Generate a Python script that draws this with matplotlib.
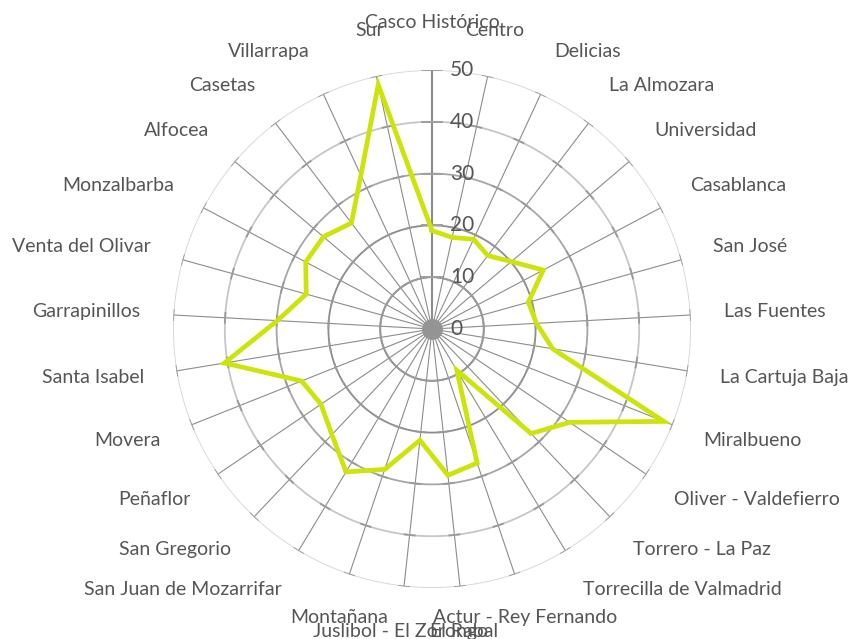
import numpy as np
import matplotlib
matplotlib.use("Agg")
import matplotlib.pyplot as plt

plt.rcParams["font.family"] = ["Lato", "DejaVu Sans"]

districts = [
    "Casco Histórico", "Centro", "Delicias", "La Almozara", "Universidad",
    "Casablanca", "San José", "Las Fuentes", "La Cartuja Baja", "Miralbueno",
    "Oliver - Valdefierro", "Torrero - La Paz", "Torrecilla de Valmadrid",
    "Actur - Rey Fernando", "El Rabal", "Juslibol - El Zorongo", "Montañana",
    "San Juan de Mozarrifar", "San Gregorio", "Peñaflor", "Movera",
    "Santa Isabel", "Garrapinillos", "Venta del Olivar", "Monzalbarba",
    "Alfocea", "Casetas", "Villarrapa", "Sur",
]
values = [19.0, 18.1, 19.1, 17.8, 20.1, 24.3, 19.3, 20.2, 23.6, 48.2,
          32.1, 27.8, 9.3, 27.3, 28.4, 21.6, 28.6, 32.2, 28.1, 25.9,
          27.1, 40.6, 29.9, 25.2, 27.6, 27.5, 25.7, 32.7, 48.3]
ticks = [0, 10, 20, 30, 40, 50]

ring_colors = {10: "#8c8c8c", 20: "#8c8c8c", 30: "#a6a6a6", 40: "#c6c6c6", 50: "#d6d6d6"}
line_color = "#cde30c"
text_color = "#555555"

n = len(districts)
angles = np.arange(n) * 2 * np.pi / n

fig = plt.figure(figsize=(8.51, 6.39), dpi=100)
ax = fig.add_axes([432 / 851 - 259 / 851, (639 - 329 - 259) / 639, 518 / 851, 518 / 639],
                  projection="polar")
ax.set_theta_zero_location("N")
ax.set_theta_direction(-1)
ax.set_ylim(0, 50)
ax.set_axis_off()

full = np.linspace(0, 2 * np.pi, 721)
px_per_unit = 259 / 50

# spokes
for a in angles[1:]:
    ax.plot([a, a], [0, 50], color="#8c8c8c", lw=0.8, zorder=1)
ax.plot([0, 0], [0, 50], color="#8c8c8c", lw=1.5, zorder=2)

# rings with small darker marks where spokes cross
for r in ticks[1:]:
    ax.plot(full, np.full_like(full, r), color=ring_colors[r], lw=1.3, zorder=1)
    d = 5 / (r * px_per_unit)
    for a in angles[1:]:
        seg = np.linspace(a - d, a + d, 5)
        ax.plot(seg, np.full_like(seg, r), color="#999999", lw=1.3, zorder=1)

# value axis ticks and labels
for t in ticks:
    if t > 0:
        ax.plot(0, t, marker="_", ms=16, mew=1.2, color="#a0a0a0", zorder=3)
    ax.annotate(str(t), xy=(0, t), xytext=(13, 0), textcoords="offset points",
                ha="left", va="center", fontsize=15, color=text_color, zorder=5)

# center disk
ax.plot(0, 0, "o", ms=14, color="#949494", zorder=3)

# data line
ax.plot(np.append(angles, angles[0]), values + values[:1], color=line_color,
        lw=3.4, solid_joinstyle="miter", zorder=4)

# category labels
for a, name in zip(angles, districts):
    deg = np.degrees(a)
    if deg < 20 or deg > 340 or 160 < deg < 200:
        ha = "center"
    elif deg < 180:
        ha = "left"
    else:
        ha = "right"
    dx = (292 - 259) * np.sin(a) * 0.72
    dy = ((305 - 259) * np.cos(a) + 1) * 0.72
    ax.annotate(name, xy=(a, 50), xytext=(dx, dy), textcoords="offset points",
                ha=ha, va="center", fontsize=14, color=text_color,
                annotation_clip=False, zorder=5)

fig.savefig("out.png", dpi=100)
